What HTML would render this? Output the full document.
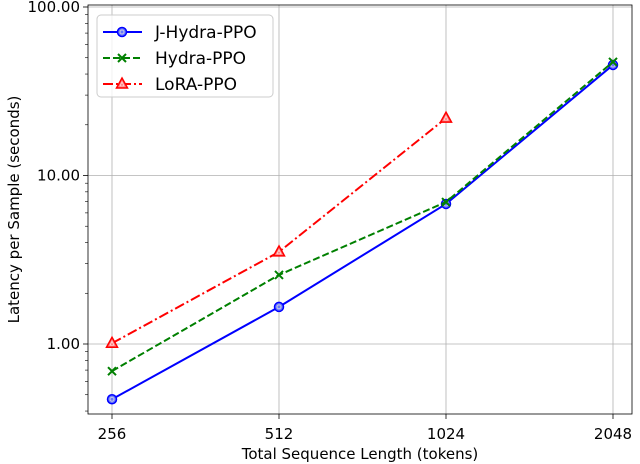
<!DOCTYPE html>
<html><head><meta charset="utf-8"><style>
body{margin:0;background:#fff}
svg{display:block;font-family:"DejaVu Sans","Liberation Sans",sans-serif}
</style></head><body>
<svg id="chart" width="640" height="464"></svg>
<script>
const categories=[256,512,1024,2048];
const jhydra=[0.47,1.66,6.78,45.3];
const hydra=[0.69,2.57,6.96,47.2];
const lora=[1.01,3.52,21.9];
const yTicks=[1,10,100];
const yTickLabels=["1.00","10.00","100.00"];
const NS="http://www.w3.org/2000/svg";
const svg=document.getElementById('chart');
const L=88,R=632,T=5,B=414;
const xs=v=>112+(Math.log2(v)-8)*167;
const ys=v=>344-Math.log10(v)*168.5;
function mk(tag,a,parent){const e=document.createElementNS(NS,tag);for(const k in a)e.setAttribute(k,a[k]);(parent||svg).appendChild(e);return e;}
categories.forEach((c,i)=>{
 const g=mk('line',{x1:xs(c),x2:xs(c),y1:T,y2:B,stroke:'#b0b0b0','stroke-width':0.8});
 
 
 mk('line',{x1:xs(c),x2:xs(c),y1:B,y2:B+5,stroke:'#000','stroke-width':0.8});
 const t=mk('text',{x:xs(c),y:B+25,'text-anchor':'middle','font-size':15});
 t.textContent=c;
 
 
});
yTicks.forEach((v,i)=>{
 const g=mk('line',{x1:L,x2:R,y1:ys(v),y2:ys(v),stroke:'#b0b0b0','stroke-width':0.8});
 
 
 mk('line',{x1:L-5,x2:L,y1:ys(v),y2:ys(v),stroke:'#000','stroke-width':0.8});
 const t=mk('text',{x:L-8,y:ys(v)+5,'text-anchor':'end','font-size':15});
 t.textContent=yTickLabels[i];
 
 
});
for(let d=0.1;d<100;d*=10)for(let k=2;k<10;k++){const v=d*k;const y=ys(v);if(y>T&&y<B)mk('line',{x1:L-3,x2:L,y1:y,y2:y,stroke:'#000','stroke-width':0.6});}
const frame=mk('rect',{x:L,y:T,width:R-L,height:B-T,fill:'none',stroke:'#000','stroke-width':0.8});


function marker(type,x,y,color,parent){
 if(type==='o'){mk('circle',{cx:x,cy:y,r:4.5,fill:'#6677ff',stroke:color,'stroke-width':1.5},parent);mk('circle',{cx:x,cy:y,r:2,fill:'none',stroke:'#ccd',"stroke-width":1},parent);}
 else if(type==='x'){mk('path',{d:`M${x-4},${y-4}L${x+4},${y+4}M${x-4},${y+4}L${x+4},${y-4}`,stroke:color,'stroke-width':2},parent);}
 else {mk('path',{d:`M${x},${y-6}L${x+5.5},${y+4}L${x-5.5},${y+4}Z`,fill:'#ff7777',stroke:color,'stroke-width':1.5},parent);mk('path',{d:`M${x},${y-2}L${x+2},${y+2}L${x-2},${y+2}Z`,fill:'none',stroke:'#fdd','stroke-width':0.8},parent);}
}
const series=[
 {name:'J-Hydra-PPO',data:jhydra,color:'#0000ff',dash:'',m:'o',id:'j-hydra-ppo'},
 {name:'Hydra-PPO',data:hydra,color:'#008000',dash:'7,3',m:'x',id:'hydra-ppo'},
 {name:'LoRA-PPO',data:lora,color:'#ff0000',dash:'10,3,2,3',m:'^',id:'lora-ppo'}];
series.forEach(s=>{
 const g=mk('g',{});
 
 
 const pts=s.data.map((v,i)=>xs(categories[i])+','+ys(v)).join(' ');
 mk('polyline',{points:pts,fill:'none',stroke:s.color,'stroke-width':2,'stroke-dasharray':s.dash},g);
 s.data.forEach((v,i)=>marker(s.m,xs(categories[i]),ys(v),s.color,g));
});
const lg=mk('g',{});


mk('rect',{x:97,y:15,width:176,height:82,rx:4,fill:'#fff','fill-opacity':0.8,stroke:'#ccc'},lg);
series.forEach((s,i)=>{
 const y=32+i*26;
 const e=mk('g',{},lg);
 
 
 mk('line',{x1:103,x2:142,y1:y,y2:y,stroke:s.color,'stroke-width':2,'stroke-dasharray':s.dash},e);
 marker(s.m,122,y,s.color,e);
 const t=mk('text',{x:155,y:y+6,'font-size':17},e);t.textContent=s.name;
});
const xt=mk('text',{x:360,y:459,'text-anchor':'middle','font-size':15});
xt.textContent='Total Sequence Length (tokens)';


const yt=mk('text',{x:0,y:0,'text-anchor':'middle','font-size':15,transform:`translate(19,${(T+B)/2}) rotate(-90)`});
yt.textContent='Latency per Sample (seconds)';


</script>
</body></html>
